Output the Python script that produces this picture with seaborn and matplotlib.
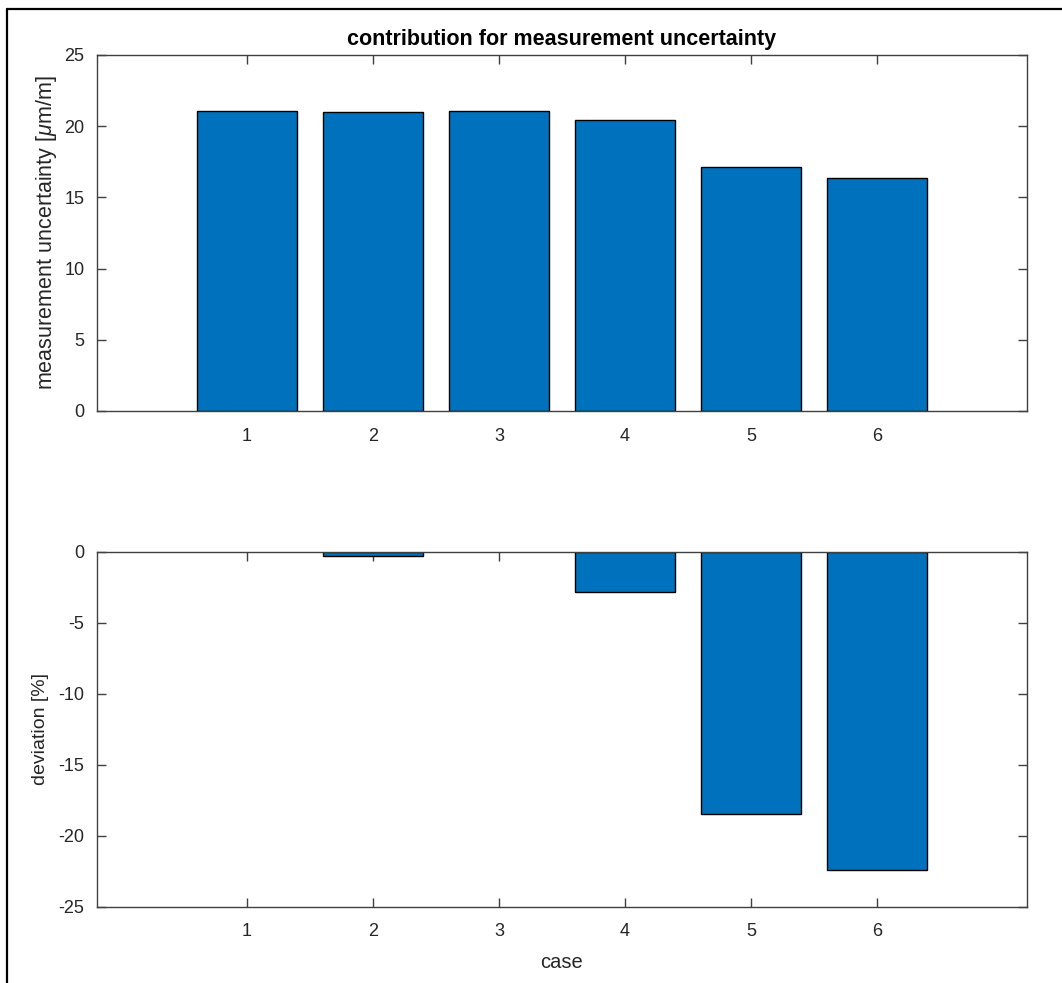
import matplotlib
matplotlib.use("Agg")
import matplotlib.pyplot as plt
from matplotlib.lines import Line2D
import seaborn as sns
import pandas as pd

# case numbers and results
cases = [1, 2, 3, 4, 5, 6]
uncertainty = [21.07, 20.97, 21.07, 20.44, 17.10, 16.38]   # µm/m
deviation = [0.0, -0.28, 0.0, -2.86, -18.49, -22.39]       # %

y_ticks_top = [0, 5, 10, 15, 20, 25]
y_ticks_bottom = [-25, -20, -15, -10, -5, 0]

sns.set_theme(style="white")
plt.rcParams["font.family"] = ["Liberation Sans", "DejaVu Sans"]
plt.rcParams["mathtext.fontset"] = "custom"
plt.rcParams["mathtext.it"] = "Liberation Sans:italic"
plt.rcParams["axes.unicode_minus"] = False

bar_color = "#0072BD"
axis_color = "#404040"
text_color = "#262626"

df = pd.DataFrame({"case": cases, "uncertainty": uncertainty, "deviation": deviation})

fig = plt.figure(figsize=(10.62, 9.83), dpi=100)
ax1 = fig.add_axes([0.0913, 0.5819, 0.8757, 0.3622])
ax2 = fig.add_axes([0.0913, 0.0776, 0.8757, 0.3611])

for ax, col in ((ax1, "uncertainty"), (ax2, "deviation")):
    sns.barplot(data=df, x="case", y=col, ax=ax, native_scale=True,
                color=bar_color, saturation=1, width=0.8,
                edgecolor="black", linewidth=1.0, errorbar=None)
    # zero-height bars leave no visible outline
    for patch in ax.patches:
        if patch.get_height() == 0:
            patch.set_linewidth(0)
    ax.set_xlim(-0.19, 7.19)
    ax.set_xticks(cases)
    ax.set_xticklabels([str(c) for c in cases])
    for s in ax.spines.values():
        s.set_visible(True)
        s.set_color(axis_color)
        s.set_linewidth(1.0)
        s.set_zorder(5)
    ax.tick_params(axis="both", which="both", direction="in", length=6.7,
                   width=1.0, color=axis_color, labelcolor=text_color,
                   labelsize=13, top=True, right=True, bottom=True, left=True)
    ax.tick_params(axis="x", pad=12)
    ax.tick_params(axis="y", pad=9)
    ax.grid(False)

ax1.set_ylim(0, 25)
ax1.set_yticks(y_ticks_top)
ax1.set_xlabel("")
ax1.set_ylabel(r"measurement uncertainty [$\mu$m/m]", fontsize=15.5,
               color=text_color, labelpad=4)
ax1.set_title("contribution for measurement uncertainty", fontsize=15.5,
              fontweight="bold", color="black", pad=7)

ax2.set_ylim(-25, 0)
ax2.set_yticks(y_ticks_bottom)
ax2.set_xlabel("case", fontsize=14.5, color=text_color, labelpad=9)
ax2.set_ylabel("deviation [%]", fontsize=14, color=text_color, labelpad=7)

# window frame along the top and left edges
fig.add_artist(Line2D([0.0066, 1.0], [0.9908, 0.9908], color="black",
                      linewidth=1.6, transform=fig.transFigure))
fig.add_artist(Line2D([0.0066, 0.0066], [0.0, 0.9908], color="black",
                      linewidth=1.6, transform=fig.transFigure))

fig.savefig("out.png", dpi=100, facecolor="white")
